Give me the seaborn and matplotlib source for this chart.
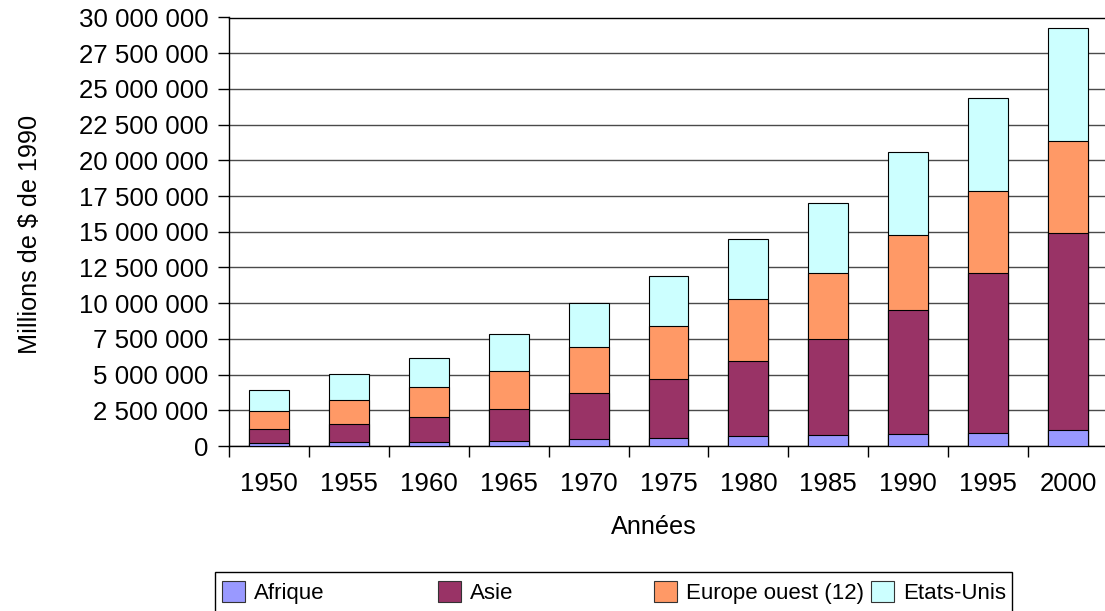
import matplotlib

matplotlib.use("Agg")
import matplotlib.pyplot as plt
import numpy as np
import pandas as pd
import seaborn as sns
from matplotlib.patches import Patch, Rectangle
from matplotlib.ticker import FuncFormatter, MultipleLocator

# Valeurs (millions de $ de 1990)
years = ["1950", "1955", "1960", "1965", "1970", "1975",
         "1980", "1985", "1990", "1995", "2000"]
afrique = [190_000, 260_000, 280_000, 370_000, 490_000, 580_000,
           720_000, 790_000, 870_000, 910_000, 1_150_000]
asie = [980_000, 1_300_000, 1_730_000, 2_230_000, 3_210_000, 4_140_000,
        5_240_000, 6_670_000, 8_630_000, 11_230_000, 13_760_000]
europe_ouest = [1_310_000, 1_670_000, 2_110_000, 2_640_000, 3_230_000, 3_700_000,
                4_310_000, 4_660_000, 5_290_000, 5_680_000, 6_450_000]
etats_unis = [1_430_000, 1_800_000, 2_030_000, 2_600_000, 3_060_000, 3_510_000,
              4_240_000, 4_910_000, 5_800_000, 6_560_000, 7_930_000]

series = ["Afrique", "Asie", "Europe ouest (12)", "Etats-Unis"]
colors = ["#9999FF", "#993366", "#FF9966", "#CCFFFF"]

sns.set_theme(style="white")
plt.rcParams["font.family"] = ["Liberation Sans", "DejaVu Sans"]
plt.rcParams["text.color"] = "black"
plt.rcParams["xtick.color"] = "black"
plt.rcParams["ytick.color"] = "black"
plt.rcParams["axes.labelcolor"] = "black"

df = pd.DataFrame({
    "year": years,
    "Afrique": afrique,
    "Asie": asie,
    "Europe ouest (12)": europe_ouest,
    "Etats-Unis": etats_unis,
})
cum = df[series].cumsum(axis=1)
cum["year"] = df["year"]

fig = plt.figure(figsize=(11.05, 6.11), dpi=100)
ax = fig.add_axes([229 / 1105, 165 / 611, 879 / 1105, 428.5 / 611])

# empiler : on dessine le total d'abord, puis les couches inférieures par-dessus
for name, color in reversed(list(zip(series, colors))):
    sns.barplot(data=cum, x="year", y=name, order=years, color=color,
                saturation=1, width=0.5, edgecolor="black", linewidth=0.8,
                ax=ax, zorder=3)

ax.set_xlim(-0.5, len(years) - 0.5)
ax.set_ylim(0, 30_000_000)
ax.yaxis.set_major_locator(MultipleLocator(2_500_000))
ax.yaxis.set_major_formatter(
    FuncFormatter(lambda v, _: f"{int(round(v)):,}".replace(",", " ")))
ax.set_xticks(np.arange(-0.5, len(years), 1), minor=True)

ax.yaxis.grid(True, color="#4a4a4a", linewidth=1.0, zorder=0)
ax.set_axisbelow(True)

for side in ["left", "bottom", "top"]:
    ax.spines[side].set_visible(True)
    ax.spines[side].set_color("black")
    ax.spines[side].set_linewidth(1.0)
ax.spines["right"].set_visible(False)

ax.tick_params(axis="y", which="major", direction="out", length=7.9, width=1,
               color="black", labelcolor="black", pad=7, labelsize=18.6,
               left=True)
ax.tick_params(axis="x", which="major", length=0, pad=18.5, labelsize=18.6,
               labelcolor="black", bottom=True)
ax.tick_params(axis="x", which="minor", direction="out", length=7.9, width=1,
               color="black", bottom=True)

ax.set_xlabel("")
ax.set_ylabel("")
fig.text(654 / 1105, 1 - 534 / 611, "Années", ha="center", va="baseline",
         fontsize=18.2, color="black")
fig.text(42 / 1105, 1 - 234 / 611, "Millions de $ de 1990", rotation=90,
         ha="right", va="center", fontsize=18.2, color="black")

# légende : quatre colonnes de même largeur dans un cadre
col_x = [222 / 1105, 438 / 1105, 654 / 1105, 871 / 1105]
for name, color, x in zip(series, colors, col_x):
    fig.legend(handles=[Patch(facecolor=color, edgecolor="#333333",
                              linewidth=0.8, label=name)],
               loc="center left", bbox_to_anchor=(x, 1 - 592.5 / 611),
               frameon=False, fontsize=16, labelcolor="black", borderpad=0,
               borderaxespad=0, handlelength=1.05, handleheight=1.1,
               handletextpad=0.4)
fig.add_artist(Rectangle((215 / 1105, 1 - 620 / 611), 797 / 1105, 48 / 611,
                         transform=fig.transFigure, fill=False,
                         edgecolor="black", linewidth=1.0))

fig.savefig("out.png", dpi=100)
